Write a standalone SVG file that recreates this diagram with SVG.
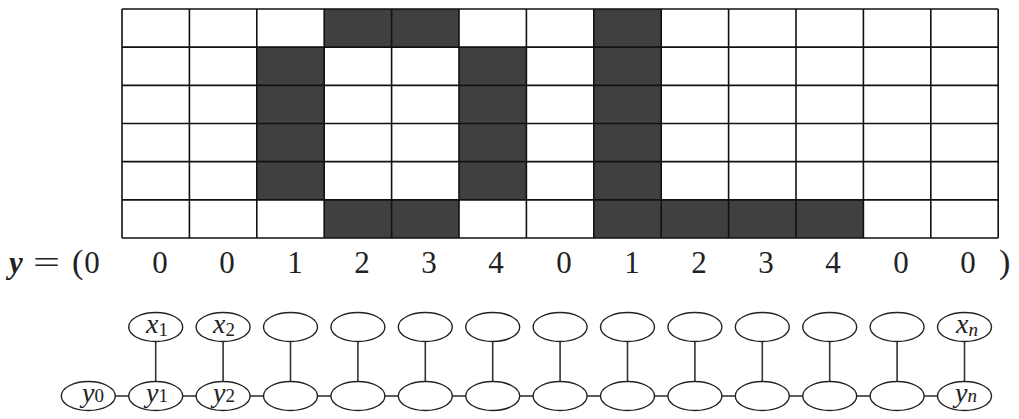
<svg xmlns="http://www.w3.org/2000/svg" width="1019" height="419" viewBox="0 0 1019 419">
<style>
.dark{fill:#404040;stroke:none}
.gl{stroke:#111;stroke-width:1.6;fill:none}
.node ellipse{fill:#fff;stroke:#222;stroke-width:1.4}
.conn line{stroke:#333;stroke-width:1.6}
.num{font-family:"Liberation Serif",serif;font-size:31px;fill:#222;text-anchor:middle}
.math{font-family:"Liberation Serif",serif;font-style:italic;font-size:28px;fill:#222}
.sub{font-size:19px;font-style:normal}
.subi{font-size:19px}
</style>
<rect width="1019" height="419" fill="#fff"/>
<g id="grid">
<rect class="dark" x="324.2" y="9" width="134.8" height="38.17"/>
<rect class="dark" x="593.8" y="9" width="67.4" height="190.83"/>
<rect class="dark" x="256.8" y="47.17" width="67.4" height="152.67"/>
<rect class="dark" x="459" y="47.17" width="67.4" height="152.67"/>
<rect class="dark" x="324.2" y="199.83" width="134.8" height="38.17"/>
<rect class="dark" x="593.8" y="199.83" width="269.6" height="38.17"/>
<path class="gl" d="M122,9H998.2M122,47.17H998.2M122,85.33H998.2M122,123.5H998.2M122,161.67H998.2M122,199.83H998.2M122,238H998.2
M122,9V238M189.4,9V238M256.8,9V238M324.2,9V238M391.6,9V238M459,9V238M526.4,9V238M593.8,9V238M661.2,9V238M728.6,9V238M796,9V238M863.4,9V238M930.8,9V238M998.2,9V238"/>
</g>
<g id="labels">
<text x="9" y="273" font-family="Liberation Serif,serif" font-size="31" font-weight="bold" font-style="italic" fill="#222">y</text>
<text x="33" y="273" font-family="Liberation Serif,serif" font-size="31" fill="#222" textLength="27" lengthAdjust="spacingAndGlyphs">=</text>
<text x="72" y="273" font-family="Liberation Serif,serif" font-size="34" fill="#222">(</text>
<text class="num" x="92" y="273">0</text>
<text class="num" x="160" y="273">0</text>
<text class="num" x="227" y="273">0</text>
<text class="num" x="295" y="273">1</text>
<text class="num" x="362" y="273">2</text>
<text class="num" x="429" y="273">3</text>
<text class="num" x="496" y="273">4</text>
<text class="num" x="564" y="273">0</text>
<text class="num" x="632" y="273">1</text>
<text class="num" x="699" y="273">2</text>
<text class="num" x="766" y="273">3</text>
<text class="num" x="833" y="273">4</text>
<text class="num" x="901" y="273">0</text>
<text class="num" x="968" y="273">0</text>
<text x="999" y="273" font-family="Liberation Serif,serif" font-size="34" fill="#222">)</text>
</g>
<g class="conn" id="connectors">
<line x1="155.7" y1="341.5" x2="155.7" y2="381.5"/>
<line x1="223.1" y1="341.5" x2="223.1" y2="381.5"/>
<line x1="290.5" y1="341.5" x2="290.5" y2="381.5"/>
<line x1="357.9" y1="341.5" x2="357.9" y2="381.5"/>
<line x1="425.3" y1="341.5" x2="425.3" y2="381.5"/>
<line x1="492.7" y1="341.5" x2="492.7" y2="381.5"/>
<line x1="560.1" y1="341.5" x2="560.1" y2="381.5"/>
<line x1="627.5" y1="341.5" x2="627.5" y2="381.5"/>
<line x1="694.9" y1="341.5" x2="694.9" y2="381.5"/>
<line x1="762.3" y1="341.5" x2="762.3" y2="381.5"/>
<line x1="829.7" y1="341.5" x2="829.7" y2="381.5"/>
<line x1="897.1" y1="341.5" x2="897.1" y2="381.5"/>
<line x1="964.5" y1="341.5" x2="964.5" y2="381.5"/>
<line x1="115.3" y1="396" x2="128.7" y2="396"/>
<line x1="182.7" y1="396" x2="196.1" y2="396"/>
<line x1="250.1" y1="396" x2="263.5" y2="396"/>
<line x1="317.5" y1="396" x2="330.9" y2="396"/>
<line x1="384.9" y1="396" x2="398.3" y2="396"/>
<line x1="452.3" y1="396" x2="465.7" y2="396"/>
<line x1="519.7" y1="396" x2="533.1" y2="396"/>
<line x1="587.1" y1="396" x2="600.5" y2="396"/>
<line x1="654.5" y1="396" x2="667.9" y2="396"/>
<line x1="721.9" y1="396" x2="735.3" y2="396"/>
<line x1="789.3" y1="396" x2="802.7" y2="396"/>
<line x1="856.7" y1="396" x2="870.1" y2="396"/>
<line x1="924.1" y1="396" x2="937.5" y2="396"/>
</g>
<g class="node" id="x1"><ellipse cx="155.7" cy="327" rx="27" ry="14.5"/><text class="math" x="146" y="333">x<tspan class="sub" dy="3">1</tspan></text></g>
<g class="node" id="x2"><ellipse cx="223.1" cy="327" rx="27" ry="14.5"/><text class="math" x="213" y="333">x<tspan class="sub" dy="3">2</tspan></text></g>
<g class="node" id="x3"><ellipse cx="290.5" cy="327" rx="27" ry="14.5"/></g>
<g class="node" id="x4"><ellipse cx="357.9" cy="327" rx="27" ry="14.5"/></g>
<g class="node" id="x5"><ellipse cx="425.3" cy="327" rx="27" ry="14.5"/></g>
<g class="node" id="x6"><ellipse cx="492.7" cy="327" rx="27" ry="14.5"/></g>
<g class="node" id="x7"><ellipse cx="560.1" cy="327" rx="27" ry="14.5"/></g>
<g class="node" id="x8"><ellipse cx="627.5" cy="327" rx="27" ry="14.5"/></g>
<g class="node" id="x9"><ellipse cx="694.9" cy="327" rx="27" ry="14.5"/></g>
<g class="node" id="x10"><ellipse cx="762.3" cy="327" rx="27" ry="14.5"/></g>
<g class="node" id="x11"><ellipse cx="829.7" cy="327" rx="27" ry="14.5"/></g>
<g class="node" id="x12"><ellipse cx="897.1" cy="327" rx="27" ry="14.5"/></g>
<g class="node" id="xn"><ellipse cx="964.5" cy="327" rx="27" ry="14.5"/><text class="math" x="956" y="333">x<tspan class="subi" dy="3">n</tspan></text></g>
<g class="node" id="y0"><ellipse cx="88.3" cy="396" rx="27" ry="14.5"/><text class="math" x="82" y="402">y<tspan class="sub">0</tspan></text></g>
<g class="node" id="y1"><ellipse cx="155.7" cy="396" rx="27" ry="14.5"/><text class="math" x="146" y="402">y<tspan class="sub">1</tspan></text></g>
<g class="node" id="y2"><ellipse cx="223.1" cy="396" rx="27" ry="14.5"/><text class="math" x="213" y="402">y<tspan class="sub">2</tspan></text></g>
<g class="node" id="y3"><ellipse cx="290.5" cy="396" rx="27" ry="14.5"/></g>
<g class="node" id="y4"><ellipse cx="357.9" cy="396" rx="27" ry="14.5"/></g>
<g class="node" id="y5"><ellipse cx="425.3" cy="396" rx="27" ry="14.5"/></g>
<g class="node" id="y6"><ellipse cx="492.7" cy="396" rx="27" ry="14.5"/></g>
<g class="node" id="y7"><ellipse cx="560.1" cy="396" rx="27" ry="14.5"/></g>
<g class="node" id="y8"><ellipse cx="627.5" cy="396" rx="27" ry="14.5"/></g>
<g class="node" id="y9"><ellipse cx="694.9" cy="396" rx="27" ry="14.5"/></g>
<g class="node" id="y10"><ellipse cx="762.3" cy="396" rx="27" ry="14.5"/></g>
<g class="node" id="y11"><ellipse cx="829.7" cy="396" rx="27" ry="14.5"/></g>
<g class="node" id="y12"><ellipse cx="897.1" cy="396" rx="27" ry="14.5"/></g>
<g class="node" id="yn"><ellipse cx="964.5" cy="396" rx="27" ry="14.5"/><text class="math" x="955" y="402">y<tspan class="subi">n</tspan></text></g>
</svg>
